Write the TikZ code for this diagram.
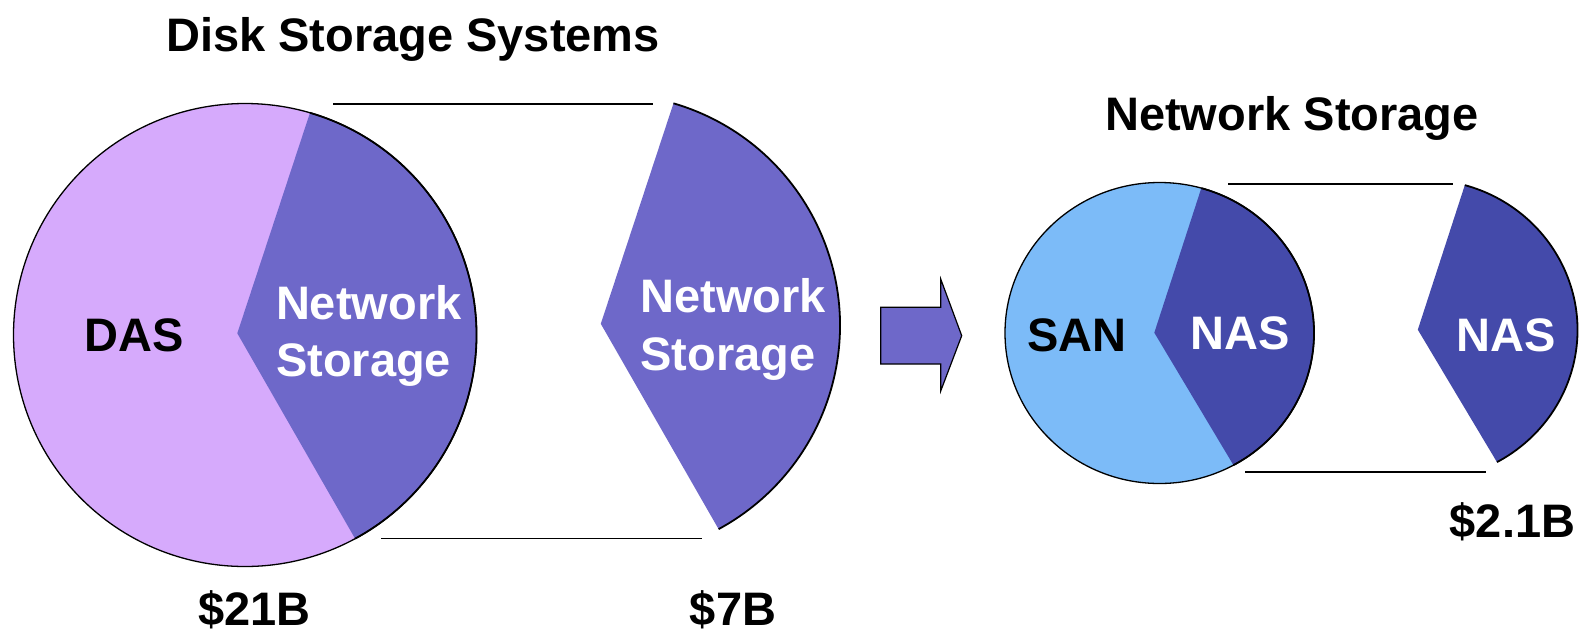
\documentclass[tikz,border=0pt]{standalone}
\usepackage{fontspec}
\setmainfont{Liberation Sans}
\definecolor{daspurple}{HTML}{D6AAFC}
\definecolor{nspurple}{HTML}{6E68C9}
\definecolor{sanblue}{HTML}{7CBBF8}
\definecolor{nasblue}{HTML}{444AAA}
\begin{document}
\begin{tikzpicture}[x=0.5pt,y=-0.5pt,
  lbl/.style={font=\fontsize{23.5}{28.7}\selectfont\bfseries, inner sep=0pt, outer sep=0pt},
  wlbl/.style={lbl, text=white},
  rim/.style={draw=black, line width=0.65pt},
  slicerim/.style={draw=black, line width=0.9pt},
  guide/.style={draw=black, line width=0.8pt}]
\useasboundingbox (0,0) rectangle (1579,633);

% ---------- left pie ----------
\begin{scope}[shift={(245,335)}]
  \fill[daspurple] (0,0) circle[radius=231.5];
  \fill[nspurple] (-7.7,-1.7) -- (-73.7:231.5) arc[start angle=-73.7, end angle=61.6, radius=231.5] -- cycle;
  \path[rim] (0,0) circle[radius=231.5];
  \path[slicerim] (-73.7:231.5) arc[start angle=-73.7, end angle=61.6, radius=231.5];
\end{scope}

% ---------- detached slice ----------
\begin{scope}[shift={(608.5,325.5)}]
  \fill[nspurple] (-7.7,-1.7) -- (-73.7:231.5) arc[start angle=-73.7, end angle=61.6, radius=231.5] -- cycle;
  \path[slicerim] (-73.7:231.5) arc[start angle=-73.7, end angle=61.6, radius=231.5];
\end{scope}

% ---------- guide lines ----------
\coordinate (lta) at (333.3,103.7);
\coordinate (ltb) at (653,103.7);
\coordinate (lba) at (381,538.3);
\coordinate (lbb) at (701.7,538.3);
\path[guide] (lta) -- (ltb);
\path[guide] (lba) -- (lbb);

% ---------- arrow ----------
\draw[fill=nspurple, line width=0.6pt, line join=miter]
  (880.7,307.3) -- (940.7,307.3) -- (940.7,279) -- (961.7,335.7) --
  (940.7,391) -- (940.7,364) -- (880.7,364) -- cycle;

% ---------- right pie ----------
\begin{scope}[shift={(1159.5,333)}]
  \fill[sanblue] (0,0) ellipse[x radius=154.5, y radius=150.5];
  \fill[nasblue] (-5.2,-0.3) -- (-74.3:154.5 and 150.5) arc[start angle=-74.3, end angle=61.4, x radius=154.5, y radius=150.5] -- cycle;
  \path[rim] (0,0) ellipse[x radius=154.5, y radius=150.5];
  \path[slicerim] (-74.3:154.5 and 150.5) arc[start angle=-74.3, end angle=61.4, x radius=154.5, y radius=150.5];
\end{scope}

% ---------- detached NAS ----------
\begin{scope}[shift={(1423,330)}]
  \fill[nasblue] (-5.2,-0.3) -- (-74.3:154.5 and 150.5) arc[start angle=-74.3, end angle=61.4, x radius=154.5, y radius=150.5] -- cycle;
  \path[slicerim] (-74.3:154.5 and 150.5) arc[start angle=-74.3, end angle=61.4, x radius=154.5, y radius=150.5];
\end{scope}

\coordinate (rta) at (1228.3,183.7);
\coordinate (rtb) at (1453.3,183.7);
\coordinate (rba) at (1245,471.7);
\coordinate (rbb) at (1485.7,471.7);
\path[guide] (rta) -- (rtb);
\path[guide] (rba) -- (rbb);

% ---------- texts ----------
\node[lbl, anchor=base] (title1) at (413,51) {Disk Storage Systems};
\node[lbl, anchor=base] (title2) at (1292,130) {Network Storage};
\node[lbl, anchor=base] (das) at (134.3,351.7) {DAS};
\node[wlbl, anchor=base west, align=left] (ns1) at (276,376.7) {Network\\Storage};
\node[wlbl, anchor=base west, align=left] (ns2) at (640.5,370) {Network\\Storage};
\node[lbl, anchor=base] (san) at (1076.7,351.7) {SAN};
\node[wlbl, anchor=base] (nas1) at (1240,349.3) {NAS};
\node[wlbl, anchor=base] (nas2) at (1506.2,351.7) {NAS};
\node[lbl, anchor=base] (v21) at (254.5,625) {\$21B};
\node[lbl, anchor=base] (v7) at (733,625) {\$7B};
\node[lbl, anchor=base] (v21b) at (1512.5,537) {\$2.1B};
\end{tikzpicture}
\end{document}
